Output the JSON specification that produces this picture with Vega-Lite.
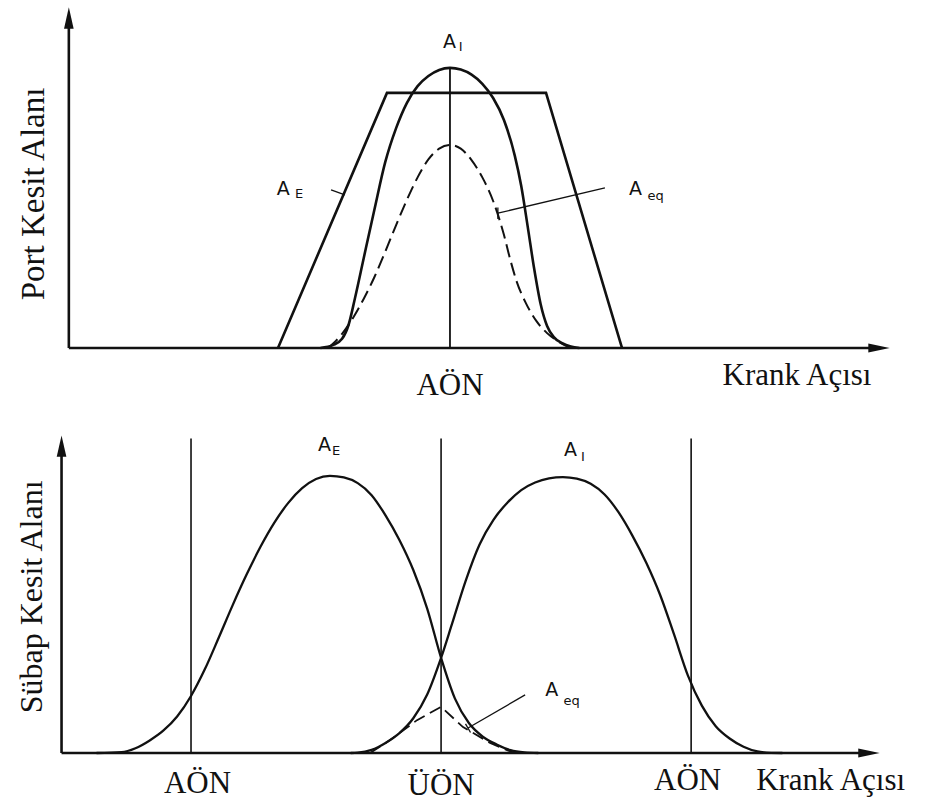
{
  "$schema": "https://vega.github.io/schema/vega-lite/v6.json",
  "padding": 0,
  "spacing": 0,
  "bounds": "flush",
  "background": "#ffffff",
  "config": {"view": {"stroke": null}},
  "datasets": {
    "topCurves": [
      {"c": "AE", "x": -79.7, "y": 0}, {"c": "AE", "x": -29.2, "y": 75.5}, {"c": "AE", "x": 44.5, "y": 75.5}, {"c": "AE", "x": 79.7, "y": 0},
      {"c": "AI", "x": -60, "y": 0}, {"c": "AI", "x": -54, "y": 0.9}, {"c": "AI", "x": -50, "y": 2.7}, {"c": "AI", "x": -47, "y": 6.8},
      {"c": "AI", "x": -44, "y": 14.8}, {"c": "AI", "x": -40, "y": 26.5}, {"c": "AI", "x": -35, "y": 41.0}, {"c": "AI", "x": -30, "y": 55.0},
      {"c": "AI", "x": -25, "y": 65.0}, {"c": "AI", "x": -20, "y": 72.5}, {"c": "AI", "x": -15, "y": 77.5}, {"c": "AI", "x": -10, "y": 80.5},
      {"c": "AI", "x": -5, "y": 82.3}, {"c": "AI", "x": 0, "y": 82.9}, {"c": "AI", "x": 5, "y": 82.4}, {"c": "AI", "x": 10, "y": 80.9},
      {"c": "AI", "x": 15, "y": 78.2}, {"c": "AI", "x": 20, "y": 74.0}, {"c": "AI", "x": 25, "y": 67.5}, {"c": "AI", "x": 30, "y": 57.0},
      {"c": "AI", "x": 33, "y": 48.0}, {"c": "AI", "x": 36, "y": 36.0}, {"c": "AI", "x": 39, "y": 23.5}, {"c": "AI", "x": 42, "y": 13.0},
      {"c": "AI", "x": 45, "y": 6.5}, {"c": "AI", "x": 48, "y": 3.3}, {"c": "AI", "x": 52, "y": 1.4}, {"c": "AI", "x": 56, "y": 0.4},
      {"c": "AI", "x": 60, "y": 0},
      {"c": "Aeq", "x": -56.5, "y": 0}, {"c": "Aeq", "x": -53, "y": 2.0}, {"c": "Aeq", "x": -50, "y": 4.2}, {"c": "Aeq", "x": -45, "y": 8.8},
      {"c": "Aeq", "x": -40, "y": 14.5}, {"c": "Aeq", "x": -35, "y": 21.0}, {"c": "Aeq", "x": -30, "y": 28.5}, {"c": "Aeq", "x": -25, "y": 36.3},
      {"c": "Aeq", "x": -20, "y": 43.8}, {"c": "Aeq", "x": -15, "y": 50.5}, {"c": "Aeq", "x": -10, "y": 55.8}, {"c": "Aeq", "x": -5, "y": 59.0},
      {"c": "Aeq", "x": 0, "y": 60.1}, {"c": "Aeq", "x": 5, "y": 59.0}, {"c": "Aeq", "x": 10, "y": 55.6}, {"c": "Aeq", "x": 15, "y": 50.5},
      {"c": "Aeq", "x": 20, "y": 43.5}, {"c": "Aeq", "x": 25, "y": 33.5}, {"c": "Aeq", "x": 28, "y": 26.0}, {"c": "Aeq", "x": 31, "y": 19.5},
      {"c": "Aeq", "x": 35, "y": 13.5}, {"c": "Aeq", "x": 40, "y": 8.0}, {"c": "Aeq", "x": 45, "y": 4.4}, {"c": "Aeq", "x": 50, "y": 2.0},
      {"c": "Aeq", "x": 54, "y": 0.6}, {"c": "Aeq", "x": 58, "y": 0}
    ],
    "topRules": [
      {"k": "axis", "x": -176.6, "y": 0, "x2": -176.6, "y2": 97.7},
      {"k": "axis", "x": -176.6, "y": 0, "x2": 198.8, "y2": 0},
      {"k": "thin", "x": 0, "y": 0, "x2": 0, "y2": 82.9},
      {"k": "lead", "x": -55.1, "y": 46.8, "x2": -48.7, "y2": 45.3},
      {"k": "lead", "x": 71.8, "y": 47.4, "x2": 22.2, "y2": 39.9},
      {"k": "lead", "x": 22.2, "y": 38.2, "x2": 22.2, "y2": 41.6}
    ],
    "topArrows": [
      {"d": "right", "x": 198.8, "y": 0},
      {"d": "up", "x": -176.6, "y": 97.7}
    ],
    "topSans": [
      {"t": "A", "s": "main", "x": -0.2, "y": 90.7}, {"t": "I", "s": "sub", "x": 4.9, "y": 89.2},
      {"t": "A", "s": "main", "x": -77.2, "y": 47.1}, {"t": "E", "s": "sub", "x": -69.9, "y": 45.7},
      {"t": "A", "s": "main", "x": 86.0, "y": 47.1}, {"t": "eq", "s": "sub", "x": 95.3, "y": 45.0}
    ],
    "topSerif": [
      {"t": "AÖN", "x": 0, "y": -13.9},
      {"t": "Krank Açısı", "x": 160.8, "y": -11.0}
    ],
    "topTitle": [
      {"t": "Port Kesit Alanı", "x": -188.1, "y": 45.6}
    ],
    "botCurves": [
      {"c": "AE", "x": -248, "y": 0}, {"c": "AE", "x": -230, "y": 0.25}, {"c": "AE", "x": -220, "y": 1.5}, {"c": "AE", "x": -210, "y": 3.9},
      {"c": "AE", "x": -200, "y": 7.05}, {"c": "AE", "x": -190, "y": 11.55}, {"c": "AE", "x": -180, "y": 18.05}, {"c": "AE", "x": -170, "y": 26.55},
      {"c": "AE", "x": -160, "y": 36.55}, {"c": "AE", "x": -150, "y": 46.8}, {"c": "AE", "x": -140, "y": 56.45}, {"c": "AE", "x": -130, "y": 65.25},
      {"c": "AE", "x": -120, "y": 72.9}, {"c": "AE", "x": -110, "y": 79.15}, {"c": "AE", "x": -100, "y": 83.8}, {"c": "AE", "x": -90, "y": 86.7},
      {"c": "AE", "x": -80, "y": 87.7}, {"c": "AE", "x": -70, "y": 87.2}, {"c": "AE", "x": -60, "y": 85.4}, {"c": "AE", "x": -50, "y": 81.6},
      {"c": "AE", "x": -40, "y": 75.2}, {"c": "AE", "x": -30, "y": 67.4}, {"c": "AE", "x": -20, "y": 57.9}, {"c": "AE", "x": -10, "y": 45.7},
      {"c": "AE", "x": 0, "y": 30.1}, {"c": "AE", "x": 10, "y": 17.2}, {"c": "AE", "x": 20, "y": 9.5}, {"c": "AE", "x": 30, "y": 5.2},
      {"c": "AE", "x": 40, "y": 2.7}, {"c": "AE", "x": 50, "y": 0.9}, {"c": "AE", "x": 60, "y": 0.2}, {"c": "AE", "x": 70, "y": 0},
      {"c": "AI", "x": -65, "y": 0}, {"c": "AI", "x": -60, "y": 0.1}, {"c": "AI", "x": -50, "y": 1.0}, {"c": "AI", "x": -40, "y": 3.2},
      {"c": "AI", "x": -30, "y": 6.3}, {"c": "AI", "x": -20, "y": 11.0}, {"c": "AI", "x": -10, "y": 18.5}, {"c": "AI", "x": 0, "y": 30.1},
      {"c": "AI", "x": 7.7, "y": 40.6}, {"c": "AI", "x": 17.7, "y": 54.5}, {"c": "AI", "x": 27.7, "y": 66.0}, {"c": "AI", "x": 37.7, "y": 73.8},
      {"c": "AI", "x": 47.7, "y": 79.2}, {"c": "AI", "x": 57.7, "y": 83.2}, {"c": "AI", "x": 67.7, "y": 85.6}, {"c": "AI", "x": 77.7, "y": 86.9},
      {"c": "AI", "x": 87.7, "y": 87.3}, {"c": "AI", "x": 97.7, "y": 86.8}, {"c": "AI", "x": 107.7, "y": 85.2}, {"c": "AI", "x": 117.7, "y": 81.8},
      {"c": "AI", "x": 127.7, "y": 76.2}, {"c": "AI", "x": 137.7, "y": 68.8}, {"c": "AI", "x": 147.7, "y": 60.2}, {"c": "AI", "x": 157.7, "y": 50.0},
      {"c": "AI", "x": 167.7, "y": 37.5}, {"c": "AI", "x": 177.7, "y": 24.5}, {"c": "AI", "x": 187.7, "y": 15.0}, {"c": "AI", "x": 197.7, "y": 8.5},
      {"c": "AI", "x": 207.7, "y": 4.6}, {"c": "AI", "x": 217.7, "y": 2.0}, {"c": "AI", "x": 227.7, "y": 0.5}, {"c": "AI", "x": 237.7, "y": 0.05},
      {"c": "AI", "x": 245.7, "y": 0},
      {"c": "Aeq", "x": -51.1, "y": 0}, {"c": "Aeq", "x": -36.7, "y": 4.1}, {"c": "Aeq", "x": -17.3, "y": 10.4}, {"c": "Aeq", "x": 0, "y": 14.6},
      {"c": "Aeq", "x": 15.8, "y": 8.2}, {"c": "Aeq", "x": 35.3, "y": 3.2}, {"c": "Aeq", "x": 47.5, "y": 0.9}, {"c": "Aeq", "x": 53.3, "y": 0}
    ],
    "botRules": [
      {"k": "axis", "x": -273.2, "y": 0, "x2": -273.2, "y2": 97.1},
      {"k": "axis", "x": -273.2, "y": 0, "x2": 308.0, "y2": 0},
      {"k": "thin", "x": -180, "y": 0, "x2": -180, "y2": 99.5},
      {"k": "thin", "x": 0, "y": 0, "x2": 0, "y2": 99.5},
      {"k": "thin", "x": 180, "y": 0, "x2": 180, "y2": 99.5},
      {"k": "lead", "x": 60.5, "y": 18.4, "x2": 19.4, "y2": 7.9},
      {"k": "lead", "x": 17.6, "y": 9.2, "x2": 21.2, "y2": 6.5}
    ],
    "botArrows": [
      {"d": "right", "x": 308.0, "y": 0},
      {"d": "up", "x": -273.2, "y": 97.1}
    ],
    "botSans": [
      {"t": "A", "s": "main", "x": -83.9, "y": 97.6}, {"t": "E", "s": "sub", "x": -75.6, "y": 95.7},
      {"t": "A", "s": "main", "x": 93.2, "y": 95.9}, {"t": "I", "s": "sub", "x": 102.1, "y": 93.8},
      {"t": "A", "s": "main", "x": 79.6, "y": 19.8}, {"t": "eq", "s": "sub", "x": 94.0, "y": 16.3}
    ],
    "botSerif": [
      {"t": "AÖN", "x": -175.3, "y": -12.7},
      {"t": "ÜÖN", "x": 0, "y": -13.3},
      {"t": "AÖN", "x": 177.5, "y": -11.7},
      {"t": "Krank Açısı", "x": 280.4, "y": -11.7}
    ],
    "botTitle": [
      {"t": "Sübap Kesit Alanı", "x": -287.3, "y": 49.4}
    ]
  },
  "vconcat": [
    {
      "width": 928,
      "height": 400,
      "encoding": {
        "x": {"field": "x", "type": "quantitative", "scale": {"domain": [-208.5, 221.5], "nice": false, "zero": false}, "axis": null},
        "y": {"field": "y", "type": "quantitative", "scale": {"domain": [-15.4, 103], "nice": false, "zero": false}, "axis": null}
      },
      "layer": [
        {"data": {"name": "topCurves"}, "transform": [{"filter": "datum.c == 'AE'"}], "mark": {"type": "line", "interpolate": "linear", "color": "#111111", "strokeWidth": 2.6, "strokeJoin": "miter"}},
        {"data": {"name": "topCurves"}, "transform": [{"filter": "datum.c == 'AI'"}], "mark": {"type": "line", "interpolate": "monotone", "color": "#111111", "strokeWidth": 2.6}},
        {"data": {"name": "topCurves"}, "transform": [{"filter": "datum.c == 'Aeq'"}], "mark": {"type": "line", "interpolate": "monotone", "color": "#111111", "strokeWidth": 2, "strokeDash": [13, 6]}},
        {"data": {"name": "topRules"}, "transform": [{"filter": "datum.k == 'axis'"}], "mark": {"type": "rule", "color": "#111111", "strokeWidth": 2.6}, "encoding": {"x2": {"field": "x2"}, "y2": {"field": "y2"}}},
        {"data": {"name": "topRules"}, "transform": [{"filter": "datum.k == 'thin'"}], "mark": {"type": "rule", "color": "#111111", "strokeWidth": 1.8}, "encoding": {"x2": {"field": "x2"}, "y2": {"field": "y2"}}},
        {"data": {"name": "topRules"}, "transform": [{"filter": "datum.k == 'lead'"}], "mark": {"type": "rule", "color": "#111111", "strokeWidth": 1.3}, "encoding": {"x2": {"field": "x2"}, "y2": {"field": "y2"}}},
        {"data": {"name": "topArrows"}, "mark": {"type": "point", "filled": true, "color": "#111111", "opacity": 1, "size": 460, "strokeWidth": 0},
         "encoding": {"shape": {"field": "d", "type": "nominal", "scale": {"domain": ["right", "up"], "range": ["M-1,-0.42L1,0L-1,0.42Z", "M-0.45,1L0,-1L0.45,1Z"]}, "legend": null}}},
        {"data": {"name": "topSans"}, "transform": [{"filter": "datum.s == 'main'"}], "mark": {"type": "text", "font": "DejaVu Sans", "fontSize": 19, "color": "#111111", "align": "center", "baseline": "middle"}, "encoding": {"text": {"field": "t"}}},
        {"data": {"name": "topSans"}, "transform": [{"filter": "datum.s == 'sub'"}], "mark": {"type": "text", "font": "DejaVu Sans", "fontSize": 13, "color": "#111111", "align": "center", "baseline": "middle"}, "encoding": {"text": {"field": "t"}}},
        {"data": {"name": "topSerif"}, "mark": {"type": "text", "font": "Liberation Serif", "fontSize": 31, "color": "#111111", "align": "center", "baseline": "alphabetic"}, "encoding": {"text": {"field": "t"}}},
        {"data": {"name": "topTitle"}, "mark": {"type": "text", "font": "Liberation Serif", "fontSize": 33, "color": "#111111", "align": "center", "baseline": "alphabetic", "angle": 270}, "encoding": {"text": {"field": "t"}}}
      ]
    },
    {
      "width": 928,
      "height": 408,
      "encoding": {
        "x": {"field": "x", "type": "quantitative", "scale": {"domain": [-317.5, 350.5], "nice": false, "zero": false}, "axis": null},
        "y": {"field": "y", "type": "quantitative", "scale": {"domain": [-17.4, 111.7], "nice": false, "zero": false}, "axis": null}
      },
      "layer": [
        {"data": {"name": "botCurves"}, "transform": [{"filter": "datum.c == 'AE'"}], "mark": {"type": "line", "interpolate": "monotone", "color": "#111111", "strokeWidth": 2.3}},
        {"data": {"name": "botCurves"}, "transform": [{"filter": "datum.c == 'AI'"}], "mark": {"type": "line", "interpolate": "monotone", "color": "#111111", "strokeWidth": 2.3}},
        {"data": {"name": "botCurves"}, "transform": [{"filter": "datum.c == 'Aeq'"}], "mark": {"type": "line", "interpolate": "linear", "color": "#111111", "strokeWidth": 1.8, "strokeDash": [12, 6]}},
        {"data": {"name": "botRules"}, "transform": [{"filter": "datum.k == 'axis'"}], "mark": {"type": "rule", "color": "#111111", "strokeWidth": 2.6}, "encoding": {"x2": {"field": "x2"}, "y2": {"field": "y2"}}},
        {"data": {"name": "botRules"}, "transform": [{"filter": "datum.k == 'thin'"}], "mark": {"type": "rule", "color": "#111111", "strokeWidth": 1.6}, "encoding": {"x2": {"field": "x2"}, "y2": {"field": "y2"}}},
        {"data": {"name": "botRules"}, "transform": [{"filter": "datum.k == 'lead'"}], "mark": {"type": "rule", "color": "#111111", "strokeWidth": 1.3}, "encoding": {"x2": {"field": "x2"}, "y2": {"field": "y2"}}},
        {"data": {"name": "botArrows"}, "mark": {"type": "point", "filled": true, "color": "#111111", "opacity": 1, "size": 460, "strokeWidth": 0},
         "encoding": {"shape": {"field": "d", "type": "nominal", "scale": {"domain": ["right", "up"], "range": ["M-1,-0.42L1,0L-1,0.42Z", "M-0.45,1L0,-1L0.45,1Z"]}, "legend": null}}},
        {"data": {"name": "botSans"}, "transform": [{"filter": "datum.s == 'main'"}], "mark": {"type": "text", "font": "DejaVu Sans", "fontSize": 19, "color": "#111111", "align": "center", "baseline": "middle"}, "encoding": {"text": {"field": "t"}}},
        {"data": {"name": "botSans"}, "transform": [{"filter": "datum.s == 'sub'"}], "mark": {"type": "text", "font": "DejaVu Sans", "fontSize": 13, "color": "#111111", "align": "center", "baseline": "middle"}, "encoding": {"text": {"field": "t"}}},
        {"data": {"name": "botSerif"}, "mark": {"type": "text", "font": "Liberation Serif", "fontSize": 31, "color": "#111111", "align": "center", "baseline": "alphabetic"}, "encoding": {"text": {"field": "t"}}},
        {"data": {"name": "botTitle"}, "mark": {"type": "text", "font": "Liberation Serif", "fontSize": 32, "color": "#111111", "align": "center", "baseline": "alphabetic", "angle": 270}, "encoding": {"text": {"field": "t"}}}
      ]
    }
  ]
}
